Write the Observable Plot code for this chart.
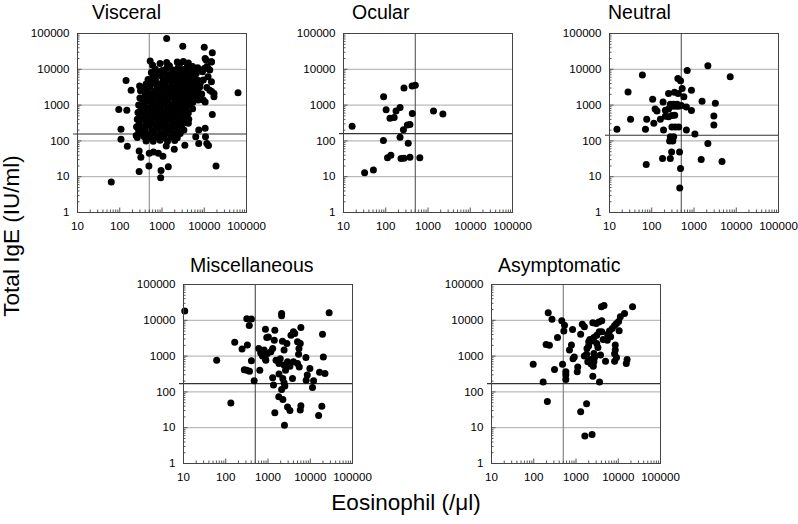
<!DOCTYPE html>
<html><head><meta charset="utf-8">
<script src="https://cdn.jsdelivr.net/npm/d3@7"></script>
<script src="https://cdn.jsdelivr.net/npm/@observablehq/plot@0.6"></script>
<style>
html,body{margin:0;padding:0;background:#fff;}
#wrap{position:relative;width:798px;height:524px;overflow:hidden;font-family:'Liberation Sans',Arial,Helvetica,sans-serif;color:#000;}
.ttl{position:absolute;font-size:19.5px;line-height:20px;white-space:nowrap;}
.pnl{position:absolute;}
</style></head>
<body><div id="wrap"></div>
<script>
// ---- tick values / labels ----
const xTicks = [10, 100, 1000, 10000, 100000];
const yTicks = [1, 10, 100, 1000, 10000, 100000];
const gridY = [10, 100, 1000, 10000];
const panelTitles = ["Visceral", "Ocular", "Neutral", "Miscellaneous", "Asymptomatic"];
const xTitle = "Eosinophil (/μl)";
const yTitle = "Total IgE (IU/ml)";
const eosinophilCut = 500;
const igeCut = [156, 160, 144, 170, 170];

// ---- data: [eosinophil, total IgE] ----
const visceral = [
[1290,72000],[3100,44000],[10000,41000],[15500,29000],
[525,17000],[1290,15500],[2300,16000],[3200,16500],[4200,15000],[11200,17800],[14800,16000],
[141,4900],[186,2600],[295,3400],[468,5200],[63000,2200],[95,750],[147,720],[107,213],[107,112],
[151,71],[245,141],[288,52],[316,35],[288,14],[490,20],[63,7.1],[930,9.3],[950,15],[1410,19],
[500,45],[630,49],[820,45],[1050,37],[1260,72],[1950,58],[3470,76],[19000,20],[15500,550],
[7400,200],[10500,224],[7400,85],[11500,85],[12600,74],[6300,130],[10700,130],[4200,310],
[9500,1380],[17000,1700],[13500,2600],[10000,10500],[12300,10500],
[10500,20000],[14800,16200],[11500,11700],[13500,9500],[9100,8500],[12300,6200],[14800,4500],
[9500,5000],[8000,4000],[11500,3100],[6600,2500],[8700,2040],[10500,1230],[7200,1380],
[600,13000],[900,14500],[1500,12500],[2600,14000],[4000,13500],[5300,12000],
[700,10000],[1000,9200],[1300,10800],[1800,9500],[2400,11000],[3300,9800],[4300,10500],[5800,9000],[7000,11000],
[560,8200],[800,7600],[1150,8000],[1600,7400],[2100,8400],[2900,7700],[3900,8100],[5000,7300],[6500,7800],
[620,6200],[950,6600],[1350,6000],[1900,6400],[2500,6100],[3500,6500],[4600,6000],[6000,6400],
[480,4800],[700,5100],[1050,4700],[1450,5200],[2000,4900],[2800,5100],[3800,4700],[5200,5000],[7300,4900],
[420,3900],[600,4100],[850,3800],[1200,4200],[1700,3900],[2300,4100],[3200,3900],[4400,4100],[6200,3800],
[360,3100],[520,3300],[760,3000],[1100,3200],[1550,3100],[2150,3300],[3000,3000],[4000,3300],[5500,3100],[7800,3200],
[310,2500],[450,2600],[650,2400],[920,2600],[1300,2400],[1850,2600],[2600,2400],[3600,2600],[5000,2400],[7000,2600],[15000,2400],
[400,1950],[560,2050],[800,1900],[1150,2100],[1600,1950],[2250,2050],[3100,1900],[4300,2100],[6000,1950],[17000,2100],
[300,1580],[430,1650],[620,1550],[880,1650],[1250,1550],[1750,1650],[2450,1550],[3400,1650],[4800,1550],[6800,1650],
[350,1250],[500,1300],[720,1200],[1000,1300],[1400,1250],[2000,1200],[2800,1300],[3900,1250],[5400,1200],
[280,1000],[400,950],[580,1050],[820,950],[1150,1050],[1650,980],[2300,1030],[3200,960],[4500,1040],
[320,790],[460,820],[650,760],[920,830],[1300,780],[1850,820],[2600,770],[3700,810],[5300,790],
[270,620],[380,650],[540,600],[760,660],[1080,610],[1500,650],[2100,620],[3000,650],[4200,600],
[300,490],[430,520],[620,480],[870,510],[1250,490],[1750,520],[2450,480],[3500,500],
[260,400],[370,410],[520,380],[740,420],[1050,390],[1500,410],[2100,390],[3000,410],[4300,400],
[290,310],[420,325],[600,305],[850,320],[1200,310],[1700,325],[2400,305],[3400,320],
[250,250],[360,240],[500,260],[710,245],[1000,255],[1420,240],[2000,260],[2900,250],
[280,195],[400,205],[580,190],[820,210],[1170,195],[1650,205],[2350,195],[3300,200],
[310,160],[450,155],[650,165],[930,155],[1300,165],[1900,158],[2700,162],
[260,125],[380,130],[540,120],[780,128],[1100,124],[1600,130],[2300,122],
[420,100],[620,98],[900,104],[1350,97],[2000,102]
];
const ocular = [
[16,257],[31.6,12.8],[51,15.3],[89,1700],[102,740],[88,102],[126,430],[158,450],[175,680],
[218,860],[270,3000],[420,3400],[500,3600],[425,585],[262,204],[325,280],[373,288],[218,127],
[340,86],[110,34],[132,40],[230,32],[270,33],[373,35],[640,34],[1350,680],[2250,560]
];
const neutral = [
[15,212],[27.5,2340],[31.5,405],[60,6950],[76,405],[71,212],[74,22],[105,1450],
[2130,12500],[690,9300],[7200,6150],[415,5500],[480,4750],[525,2900],[870,2600],[250,2100],
[345,2300],[420,2100],[575,1700],[1550,1290],[3200,1130],[185,1230],[275,1050],[330,1050],
[400,1050],[300,930],[360,930],[430,930],[500,980],[660,890],[120,780],[133,680],[210,720],
[250,780],[870,710],[210,490],[250,470],[300,510],[350,520],[2950,500],[112,310],[160,400],
[2950,280],[300,245],[360,245],[435,245],[190,200],[660,200],[1050,155],[275,131],[330,131],
[265,100],[315,100],[2130,85],[295,49],[455,49],[180,32],[275,32],[1480,30],[4600,26.5],[480,17],[460,4.8]
];
const miscellaneous = [
[10.7,18300],[61,770],[132,49],[163,2450],[243,1590],[325,2030],[315,11000],[405,10800],[360,7100],
[275,415],[315,400],[365,375],[405,740],[470,204],[640,405],[605,1620],[670,1230],[870,5600],
[935,3300],[1020,3400],[1450,5250],[810,1470],[970,1180],[1170,1320],[860,860],[890,770],[740,1000],
[1290,1620],[1410,2780],[1550,770],[1950,850],[1820,620],[2100,13500],[2100,15500],[2200,2600],
[2400,1470],[2800,2240],[3500,3800],[4000,4750],[4300,4300],[6000,6300],[5000,2500],[5800,2240],
[5400,1620],[5300,1130],[7900,910],[2900,690],[3300,520],[4000,690],[5000,620],[5500,500],
[2400,560],[2600,405],[1820,315],[1290,250],[1350,155],[2240,235],[2400,180],[2500,145],[2100,117],
[3800,235],[9800,450],[8500,295],[8000,213],[12000,204],[11300,132],[16600,355],[22300,325],
[19500,4100],[20400,950],[28000,16200],[1800,73],[2250,61],[2900,38],[3300,30],[1450,26],
[2450,11.8],[6000,41],[5800,31],[15800,22],[18800,40]
];
const asymptomatic = [
[97,595],[167,190],[210,54],[196,2100],[235,2000],[220,16200],[270,10700],[310,425],[365,3300],
[460,9700],[535,7300],[515,5000],[480,590],[575,365],[575,295],[575,222],[830,5500],[700,1470],
[780,2030],[850,850],[910,950],[1100,500],[1070,365],[1290,4100],[1410,7800],[1580,6600],[1580,1000],
[1780,1130],[1820,1620],[1990,1900],[2000,2500],[2130,2900],[1900,690],[2200,800],[2290,600],
[2570,520],[2650,690],[2750,910],[2650,1180],[2350,2630],[2650,3300],[3100,3800],[3100,2240],
[3300,1740],[3550,4800],[4070,4800],[2500,8500],[3000,8100],[3470,8900],[4070,9700],[4000,24000],
[4600,26000],[4400,2900],[5000,720],[3800,1070],[2500,275],[3600,190],[5600,4100],[6200,5000],
[7200,5900],[8200,7100],[9100,8100],[10200,9300],[5500,2780],[6600,3450],[8500,2040],[8500,1480],
[8200,1170],[9100,910],[8200,720],[10500,5100],[11200,12600],[14100,15500],[16200,800],[15500,620],
[21800,24000],[1780,47],[1290,28],[1620,5.9],[2400,6.5]
];

const datasets = [visceral, ocular, neutral, miscellaneous, asymptomatic];
// frame positions (left, top) of the five panels and vertical-line tone
const layout = [
  {left: 77, top: 33, v: "#8c8c8c"},
  {left: 343, top: 33, v: "#555"},
  {left: 609, top: 33, v: "#555"},
  {left: 183, top: 284, v: "#4a4a4a"},
  {left: 491, top: 284, v: "#7a7a7a"}
];
const titlePos = [[92,1.5],[352,1.5],[608,1.5],[190,255],[498,255]];

const minorX = [], minorY = [];
for (let e = 1; e < 5; e++) for (let k = 2; k < 10; k++) minorX.push(k * 10 ** e);
for (let e = 0; e < 5; e++) for (let k = 2; k < 10; k++) minorY.push(k * 10 ** e);

const W = 169, H = 179, mL = 50, mR = 22, mT = 6, mB = 26;
const wrap = document.getElementById("wrap");
const font = "'Liberation Sans', Arial, Helvetica, sans-serif";

datasets.forEach((data, i) => {
  const L = layout[i];
  const chart = Plot.plot({
    width: W + mL + mR, height: H + mT + mB,
    marginLeft: mL, marginRight: mR, marginTop: mT, marginBottom: mB,
    style: {fontFamily: font, fontSize: "11.6px", color: "#000", background: "transparent", overflow: "visible"},
    x: {type: "log", domain: [10, 100000], ticks: xTicks, tickFormat: d => String(d), tickSize: 0, tickPadding: 9, label: null},
    y: {type: "log", domain: [1, 100000], ticks: yTicks, tickFormat: d => String(d), tickSize: 0, tickPadding: 8, label: null},
    marks: [
      Plot.ruleY(gridY, {stroke: "#a9a9a9", strokeWidth: 1}),
      Plot.ruleX([eosinophilCut], {stroke: L.v, strokeWidth: 1.1}),
      Plot.ruleY([igeCut[i]], {stroke: "#333", strokeWidth: 1.1, insetLeft: -4}),
      Plot.tickX(minorX, {x: d => d, insetTop: H - 2.5, stroke: "#555"}),
      Plot.tickX(xTicks, {x: d => d, insetTop: H - 4.5, stroke: "#555"}),
      Plot.tickY(minorY, {y: d => d, insetRight: W - 2.5, stroke: "#555"}),
      Plot.tickY(yTicks, {y: d => d, insetRight: W - 4.5, stroke: "#555"}),
      Plot.dot(data, {x: d => d[0], y: d => d[1], r: 3.5, fill: "#000", stroke: null}),
      Plot.frame({stroke: "#444"})
    ]
  });
  chart.classList.add("pnl");
  chart.style.left = (L.left - mL) + "px";
  chart.style.top = (L.top - mT) + "px";
  wrap.appendChild(chart);

  const t = document.createElement("div");
  t.className = "ttl";
  t.textContent = panelTitles[i];
  t.style.left = titlePos[i][0] + "px";
  t.style.top = titlePos[i][1] + "px";
  wrap.appendChild(t);
});

const xt = document.createElement("div");
xt.textContent = xTitle;
xt.style.cssText = "position:absolute;left:406px;top:503px;transform:translate(-50%,-50%);font-size:22.5px;line-height:26px;white-space:nowrap;";
wrap.appendChild(xt);

const yt = document.createElement("div");
yt.textContent = yTitle;
yt.style.cssText = "position:absolute;left:12px;top:236px;transform:translate(-50%,-50%) rotate(-90deg);font-size:22.5px;line-height:26px;white-space:nowrap;";
wrap.appendChild(yt);
</script>
</body></html>
